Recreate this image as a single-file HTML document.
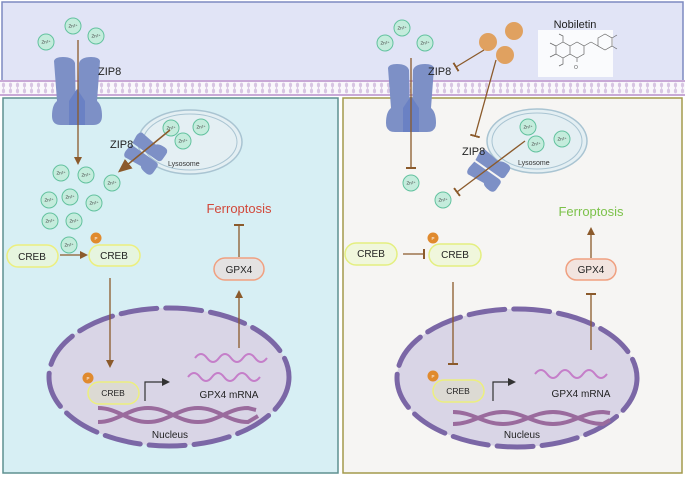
<!DOCTYPE html>
<html><head><meta charset="utf-8"><style>
html,body{margin:0;padding:0;background:#fff;}
svg{display:block;font-family:"Liberation Sans",sans-serif;}
</style></head><body>
<svg width="685" height="477" viewBox="0 0 685 477" xmlns="http://www.w3.org/2000/svg">
<defs>
<pattern id="mem" x="0" y="81" width="7" height="14" patternUnits="userSpaceOnUse">
<rect width="7" height="14" fill="#faf8fc"/>
<ellipse cx="3.5" cy="4" rx="1.6" ry="2.4" fill="#d8c6e3"/>
<ellipse cx="3.5" cy="10" rx="1.6" ry="2.4" fill="#d8c6e3"/>
<line x1="3.5" y1="4" x2="3.5" y2="10" stroke="#d8c6e3" stroke-width="0.8"/>
</pattern>
<g id="zn"><circle r="8" fill="#c4ecdc" stroke="#63c29f" stroke-width="1"/><text y="1.5" text-anchor="middle" font-size="4.5" fill="#444">Zn²⁺</text></g>
<g id="ch">
<path d="M-23,-30 Q-22,-34 -14,-34 Q-4,-34 -2,-28 L-1,25 Q-1,34 -8,34 L-16,34 Q-25,34 -25,25 Q-25,14 -20,10 Z" fill="#7d90c6"/>
<path d="M23,-30 Q22,-34 14,-34 Q4,-34 2,-28 L1,25 Q1,34 8,34 L16,34 Q25,34 25,25 Q25,14 20,10 Z" fill="#7d90c6"/>
<path d="M-8,10 L0,-2 L8,10 L8,34 L-8,34 Z" fill="#6a81c4"/>
</g>
<g id="chs">
<path d="M-15,-14 Q-14,-17 -9,-17 L-1,-16 L-1,14 Q-1,18 -5,18 L-11,18 Q-16,18 -16,13 Q-16,6 -13,4 Z" fill="#7d90c6"/>
<path d="M15,-14 Q14,-17 9,-17 L1,-16 L1,14 Q1,18 5,18 L11,18 Q16,18 16,13 Q16,6 13,4 Z" fill="#7d90c6"/>
</g>
<marker id="ar" markerWidth="8" markerHeight="8" refX="6" refY="4" orient="auto" markerUnits="userSpaceOnUse"><path d="M0,0 L8,4 L0,8 Z" fill="#8b5a2b"/></marker>
<marker id="arb" markerWidth="14" markerHeight="12" refX="10" refY="6" orient="auto" markerUnits="userSpaceOnUse"><path d="M0,0 L14,6 L0,12 Z" fill="#8b5a2b"/></marker>
<marker id="tb" markerWidth="2" markerHeight="10" refX="1" refY="5" orient="auto" markerUnits="userSpaceOnUse"><rect width="2" height="10" fill="#8b5a2b"/></marker>
<marker id="ark" markerWidth="8" markerHeight="8" refX="6" refY="4" orient="auto" markerUnits="userSpaceOnUse"><path d="M0,0 L8,4 L0,8 Z" fill="#333"/></marker>
</defs>

<rect x="2" y="2" width="681" height="84" fill="#e1e4f6" stroke="#7d8ac0" stroke-width="1.5"/>
<rect x="0" y="81" width="685" height="15" fill="url(#mem)"/>
<line x1="0" y1="81" x2="685" y2="81" stroke="#c8a9d6" stroke-width="2"/>
<line x1="0" y1="95" x2="685" y2="95" stroke="#c8a9d6" stroke-width="2"/>
<rect x="3" y="98" width="335" height="375" fill="#d7eff4" stroke="#5f9090" stroke-width="1.5"/>
<rect x="343" y="98" width="339" height="375" fill="#f6f5f3" stroke="#a39a4c" stroke-width="1.5"/>

<!-- LEFT -->
<use href="#zn" x="73" y="26"/><use href="#zn" x="46" y="42"/><use href="#zn" x="96" y="36"/>
<use href="#ch" x="77" y="91"/>
<text x="98" y="75" font-size="11" fill="#222">ZIP8</text>
<line x1="78" y1="40" x2="78" y2="163" stroke="#8b5a2b" stroke-width="1.3" marker-end="url(#ar)"/>
<ellipse cx="190" cy="142" rx="52" ry="32" fill="#e4eff3" stroke="#a9c4d2" stroke-width="1.5"/>
<ellipse cx="190" cy="142" rx="47" ry="28" fill="none" stroke="#a9c4d2" stroke-width="1"/>
<use href="#zn" x="171" y="128"/><use href="#zn" x="201" y="127"/><use href="#zn" x="183" y="141"/>
<text x="168" y="166" font-size="7" fill="#333">Lysosome</text>
<use href="#chs" transform="translate(145,153) rotate(-55)"/>
<text x="110" y="148" font-size="11" fill="#222">ZIP8</text>
<line x1="170" y1="130" x2="121" y2="170" stroke="#8b5a2b" stroke-width="1.6" marker-end="url(#arb)"/>
<use href="#zn" x="61" y="173"/><use href="#zn" x="86" y="175"/><use href="#zn" x="112" y="183"/>
<use href="#zn" x="49" y="200"/><use href="#zn" x="70" y="197"/><use href="#zn" x="94" y="203"/>
<use href="#zn" x="50" y="221"/><use href="#zn" x="74" y="221"/><use href="#zn" x="69" y="245"/>
<text x="239" y="213" font-size="13" fill="#d2483a" text-anchor="middle">Ferroptosis</text>
<line x1="239" y1="225" x2="239" y2="257" stroke="#8b5a2b" stroke-width="1.3" marker-start="url(#tb)"/>
<rect x="7" y="245" width="51" height="22" rx="11" fill="#e6f5df" stroke="#ecef7e" stroke-width="1.5"/>
<text x="32" y="260" font-size="10" text-anchor="middle" fill="#222">CREB</text>
<line x1="60" y1="255" x2="86" y2="255" stroke="#8b5a2b" stroke-width="1.3" marker-end="url(#ar)"/>
<rect x="89" y="245" width="51" height="21" rx="10.5" fill="#e6f5df" stroke="#ecef7e" stroke-width="1.5"/>
<text x="114" y="259" font-size="10" text-anchor="middle" fill="#222">CREB</text>
<circle cx="96" cy="238" r="5.5" fill="#e08a2e"/><text x="96" y="240" font-size="4.5" fill="#fff" text-anchor="middle">P</text>
<rect x="214" y="258" width="50" height="22" rx="11" fill="#e4e2e2" stroke="#f0a080" stroke-width="1.5"/>
<text x="239" y="273" font-size="10" text-anchor="middle" fill="#222">GPX4</text>
<ellipse cx="169" cy="377" rx="120" ry="69" fill="#d9d5e6" stroke="#7b67a6" stroke-width="5" stroke-dasharray="36,9" stroke-linecap="round"/>
<line x1="110" y1="278" x2="110" y2="366" stroke="#8b5a2b" stroke-width="1.3" marker-end="url(#ar)"/>
<line x1="239" y1="348" x2="239" y2="292" stroke="#8b5a2b" stroke-width="1.3" marker-end="url(#ar)"/>
<circle cx="88" cy="378" r="5.5" fill="#e08a2e"/><text x="88" y="380" font-size="4.5" fill="#fff" text-anchor="middle">P</text>
<rect x="88" y="382" width="51" height="22" rx="11" fill="#dcdad3" stroke="#ecef7e" stroke-width="1.5"/>
<text x="113" y="396" font-size="8.5" text-anchor="middle" fill="#222">CREB</text>
<path d="M145,401 L145,382 L168,382" fill="none" stroke="#333" stroke-width="1.2" marker-end="url(#ark)"/>
<path d="M195,358 q6,-8 12,0 t12,0 t12,0 t12,0 t12,0 t12,0" fill="none" stroke="#c57ec9" stroke-width="2"/>
<path d="M188,377 q6,-8 12,0 t12,0 t12,0 t12,0 t12,0 t12,0" fill="none" stroke="#c57ec9" stroke-width="2"/>
<text x="229" y="398" font-size="10" text-anchor="middle" fill="#222">GPX4 mRNA</text>
<path d="M98,408 C118,408 128,422 148,422 C168,422 178,408 198,408 C218,408 228,422 248,422 L258,416" fill="none" stroke="#9a6b9d" stroke-width="4"/>
<path d="M98,422 C118,422 128,408 148,408 C168,408 178,422 198,422 C218,422 228,408 248,408 L256,410" fill="none" stroke="#9a6b9d" stroke-width="4"/>
<text x="170" y="438" font-size="10" text-anchor="middle" fill="#222">Nucleus</text>

<!-- RIGHT -->
<use href="#zn" x="402" y="28"/><use href="#zn" x="385" y="43"/><use href="#zn" x="425" y="43"/>
<circle cx="488" cy="42" r="9" fill="#e0a160"/><circle cx="514" cy="31" r="9" fill="#e0a160"/><circle cx="505" cy="55" r="9" fill="#e0a160"/>
<text x="575" y="28" font-size="11" text-anchor="middle" fill="#222">Nobiletin</text>
<rect x="538" y="30" width="75" height="47" fill="#fafbfd"/>
<g fill="none" stroke="#666" stroke-width="0.7">
<path d="M556,46 l7,-4 7,4 0,8 -7,4 -7,-4 z M570,46 l7,-4 7,4 0,8 -7,4 -7,-4 z M584,46 l7,-4 M591,42 l7,4 0,0 M598,38 l7,-4 7,4 0,8 -7,4 -7,-4 z M563,42 v-6 l-4,-2 M556,46 l-6,-3 M556,54 l-6,3 M563,58 v6 l-4,2 M577,58 v4 M612,38 l5,-3 M612,46 l5,3"/>
</g>
<text x="574" y="69" font-size="5" fill="#555">O</text>
<use href="#ch" x="411" y="98"/>
<text x="428" y="75" font-size="11" fill="#222">ZIP8</text>
<line x1="411" y1="58" x2="411" y2="168" stroke="#8b5a2b" stroke-width="1.3" marker-end="url(#tb)"/>
<line x1="484" y1="50" x2="456" y2="67" stroke="#8b5a2b" stroke-width="1.3" marker-end="url(#tb)"/>
<line x1="496" y1="60" x2="475" y2="136" stroke="#8b5a2b" stroke-width="1.3" marker-end="url(#tb)"/>
<ellipse cx="537" cy="141" rx="50" ry="32" fill="#e4eff3" stroke="#a9c4d2" stroke-width="1.5"/>
<ellipse cx="537" cy="141" rx="45" ry="28" fill="none" stroke="#a9c4d2" stroke-width="1"/>
<use href="#zn" x="528" y="127"/><use href="#zn" x="536" y="144"/><use href="#zn" x="562" y="139"/>
<text x="518" y="165" font-size="7" fill="#333">Lysosome</text>
<use href="#chs" transform="translate(488,170) rotate(-55)"/>
<text x="462" y="155" font-size="11" fill="#222">ZIP8</text>
<line x1="525" y1="141" x2="457" y2="192" stroke="#8b5a2b" stroke-width="1.3" marker-end="url(#tb)"/>
<use href="#zn" x="411" y="183"/><use href="#zn" x="443" y="200"/>
<text x="591" y="216" font-size="13" fill="#7cc24a" text-anchor="middle">Ferroptosis</text>
<line x1="591" y1="258" x2="591" y2="229" stroke="#8b5a2b" stroke-width="1.3" marker-end="url(#ar)"/>
<rect x="345" y="243" width="52" height="22" rx="11" fill="#f0f7dc" stroke="#e4ef80" stroke-width="1.5"/>
<text x="371" y="257" font-size="10" text-anchor="middle" fill="#222">CREB</text>
<line x1="403" y1="254" x2="424" y2="254" stroke="#8b5a2b" stroke-width="1.3" marker-end="url(#tb)"/>
<rect x="429" y="244" width="52" height="22" rx="11" fill="#f0f7dc" stroke="#e4ef80" stroke-width="1.5"/>
<text x="455" y="258" font-size="10" text-anchor="middle" fill="#222">CREB</text>
<circle cx="433" cy="238" r="5.5" fill="#e08a2e"/><text x="433" y="240" font-size="4.5" fill="#fff" text-anchor="middle">P</text>
<rect x="566" y="259" width="50" height="21" rx="10.5" fill="#f2e4df" stroke="#f0a080" stroke-width="1.5"/>
<text x="591" y="273" font-size="10" text-anchor="middle" fill="#222">GPX4</text>
<ellipse cx="517" cy="378" rx="120" ry="69" fill="#d9d5e6" stroke="#7b67a6" stroke-width="5" stroke-dasharray="36,9" stroke-linecap="round"/>
<line x1="453" y1="282" x2="453" y2="364" stroke="#8b5a2b" stroke-width="1.3" marker-end="url(#tb)"/>
<line x1="591" y1="350" x2="591" y2="294" stroke="#8b5a2b" stroke-width="1.3" marker-end="url(#tb)"/>
<circle cx="433" cy="376" r="5.5" fill="#e08a2e"/><text x="433" y="378" font-size="4.5" fill="#fff" text-anchor="middle">P</text>
<rect x="433" y="380" width="51" height="22" rx="11" fill="#dcdad3" stroke="#ecef7e" stroke-width="1.5"/>
<text x="458" y="394" font-size="8.5" text-anchor="middle" fill="#222">CREB</text>
<path d="M493,401 L493,382 L514,382" fill="none" stroke="#333" stroke-width="1.2" marker-end="url(#ark)"/>
<path d="M535,374 q6,-8 12,0 t12,0 t12,0 t12,0 t12,0 t12,0" fill="none" stroke="#c57ec9" stroke-width="2"/>
<text x="581" y="397" font-size="10" text-anchor="middle" fill="#222">GPX4 mRNA</text>
<path d="M453,412 C473,412 483,424 503,424 C523,424 533,412 553,412 C573,412 583,424 603,424 L610,420" fill="none" stroke="#9a6b9d" stroke-width="4"/>
<path d="M453,424 C473,424 483,412 503,412 C523,412 533,424 553,424 C573,424 583,412 603,412 L610,413" fill="none" stroke="#9a6b9d" stroke-width="4"/>
<text x="522" y="438" font-size="10" text-anchor="middle" fill="#222">Nucleus</text>
</svg>
</body></html>
